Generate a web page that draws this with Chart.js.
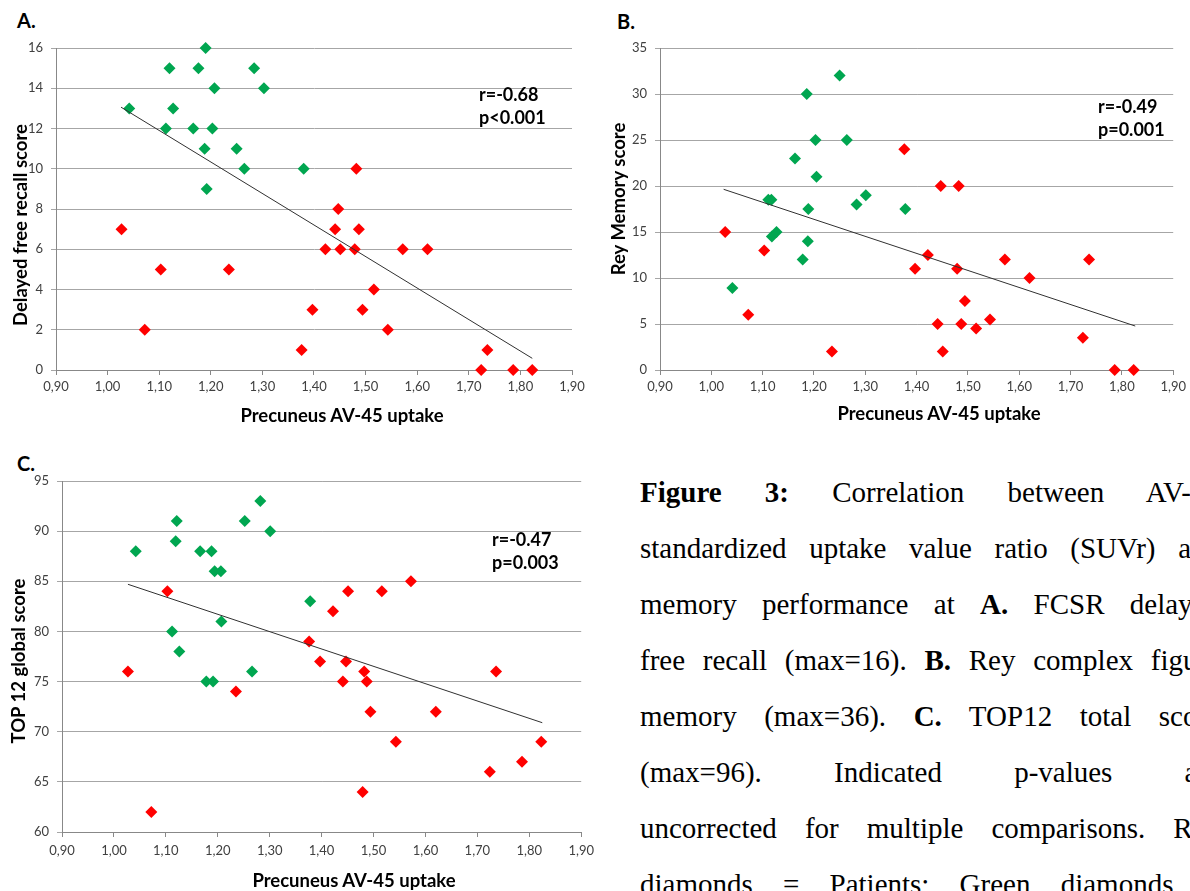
<!DOCTYPE html>
<html>
<head>
<meta charset="utf-8">
<script src="https://cdn.jsdelivr.net/npm/chart.js@4.4.1/dist/chart.umd.min.js"></script>
<style>
html, body { margin: 0; padding: 0; background: #fff; width: 1190px; height: 891px; overflow: hidden; }
.panel { position: absolute; }
.tag { position: absolute; font: bold 20px Lato, sans-serif; color: #000; }
.stat { position: absolute; font: bold 18px Lato, sans-serif; line-height: 23px; color: #000; }
.xt, .yt { position: absolute; width: 400px; height: 22px; font: bold 18.5px/22px Lato, sans-serif; color: #000; text-align: center; white-space: nowrap; }
.yt { transform: rotate(-90deg); }
#caption { position: absolute; left: 640px; top: 464px; width: 580px; font: 29px/56px "Liberation Serif", serif; color: #000; }
#caption div { text-align: justify; text-align-last: justify; white-space: nowrap; }
</style>
</head>
<body>

<div class="tag" style="left:17px;top:8px">A.</div>
<div class="tag" style="left:617px;top:9px">B.</div>
<div class="tag" style="left:17px;top:451px">C.</div>

<canvas id="chartA" class="panel" width="590" height="430" style="left:0;top:0"></canvas>
<canvas id="chartB" class="panel" width="600" height="430" style="left:590px;top:0"></canvas>
<canvas id="chartC" class="panel" width="600" height="441" style="left:0;top:450px"></canvas>

<!-- axis titles: centre = left + 200, top + 11 -->
<div class="xt" style="left:142px;top:404px">Precuneus AV-45 uptake</div>
<div class="xt" style="left:739px;top:402px">Precuneus AV-45 uptake</div>
<div class="xt" style="left:154px;top:869px">Precuneus AV-45 uptake</div>
<div class="yt" style="left:-180px;top:214px">Delayed free recall score</div>
<div class="yt" style="left:418px;top:188px">Rey Memory score</div>
<div class="yt" style="left:-182px;top:650px">TOP 12 global score</div>

<div class="stat" style="left:479px;top:83px">r=-0.68<br>p&lt;0.001</div>
<div class="stat" style="left:1098px;top:95px">r=-0.49<br>p=0.001</div>
<div class="stat" style="left:492px;top:528px">r=-0.47<br>p=0.003</div>

<div id="caption">
  <div><b>Figure 3:</b> Correlation between AV-45</div>
  <div>standardized uptake value ratio (SUVr) and</div>
  <div>memory performance at <b>A.</b> FCSR delayed</div>
  <div>free recall (max=16). <b>B.</b> Rey complex figure</div>
  <div>memory (max=36). <b>C.</b> TOP12 total score</div>
  <div>(max=96). Indicated p-values are</div>
  <div>uncorrected for multiple comparisons. Red</div>
  <div>diamonds = Patients; Green diamonds =</div>
</div>

<script>
// patients (red), same SUVr in all three panels
const patientSuvr = [1.027, 1.072, 1.103, 1.235, 1.376, 1.397, 1.422, 1.441, 1.447, 1.451, 1.479,
                     1.482, 1.487, 1.494, 1.516, 1.543, 1.572, 1.620, 1.724, 1.736, 1.786, 1.823];
const patientRecall = [7, 2, 5, 5, 1, 3, 6, 7, 8, 6, 6, 10, 7, 3, 4, 2, 6, 6, 0, 1, 0, 0];
const patientRey    = [15, 6, 13, 2, 24, 11, 12.5, 5, 20, 2, 11, 20, 5, 7.5, 4.5, 5.5, 12, 10, 3.5, 12, 0, 0];
const patientTop12  = [76, 62, 84, 74, 79, 77, 82, 75, 77, 84, 64, 76, 75, 72, 84, 69, 85, 72, 66, 76, 67, 69];

// controls (green), read per panel
const controlSuvrA   = [1.042, 1.113, 1.120, 1.127, 1.166, 1.176, 1.188, 1.190, 1.192, 1.203, 1.207, 1.250, 1.265, 1.284, 1.303, 1.380];
const controlRecall  = [13, 12, 15, 13, 12, 15, 11, 16, 9, 12, 14, 11, 10, 15, 14, 10];
const controlSuvrB   = [1.041, 1.111, 1.117, 1.118, 1.127, 1.163, 1.178, 1.186, 1.188, 1.189, 1.203, 1.205, 1.250, 1.264, 1.283, 1.301, 1.378];
const controlRey     = [8.9, 18.5, 18.5, 14.5, 15, 23, 12, 30, 14, 17.5, 25, 21, 32, 25, 18, 19, 17.5];
const controlSuvrC   = [1.042, 1.112, 1.119, 1.121, 1.126, 1.166, 1.178, 1.188, 1.191, 1.194, 1.206, 1.207, 1.252, 1.266, 1.282, 1.301, 1.378];
const controlTop12   = [88, 80, 89, 91, 78, 88, 75, 88, 75, 86, 86, 81, 91, 76, 93, 90, 83];

// regression line end points [x, y]
const trendA = [[1.026, 13.06], [1.823, 0.58]];
const trendB = [[1.024, 19.64], [1.826, 4.78]];
const trendC = [[1.027, 84.7], [1.825, 70.9]];

const RED = '#ff0000';
const GREEN = '#00a650';
const FONT = 'Lato';

function pts(xs, ys) {
    return xs.map((x, i) => ({ x: x, y: ys[i] }));
}

function makeChart(id, cfg) {
    const diamonds = (data, color) => ({
        data: data,
        pointStyle: 'rectRot',
        pointRadius: 6,
        pointBorderWidth: 0,
        backgroundColor: color,
        borderColor: color,
        showLine: false,
        clip: false
    });

    return new Chart(document.getElementById(id), {
        type: 'scatter',
        data: {
            datasets: [
                {
                    data: cfg.trend.map(p => ({ x: p[0], y: p[1] })),
                    showLine: true,
                    borderColor: '#303030',
                    borderWidth: 1,
                    pointRadius: 0
                },
                diamonds(pts(cfg.px, cfg.py), RED),
                diamonds(pts(cfg.cx, cfg.cy), GREEN)
            ]
        },
        options: {
            responsive: false,
            animation: false,
            events: [],
            layout: { padding: { top: cfg.top, right: cfg.right, left: 0, bottom: 0 } },
            plugins: { legend: { display: false }, tooltip: { enabled: false } },
            scales: {
                x: {
                    type: 'linear',
                    min: 0.9,
                    max: 1.9,
                    afterFit: s => { s.height = cfg.xh; },
                    ticks: {
                        stepSize: 0.1,
                        autoSkip: false,
                        maxRotation: 0,
                        padding: cfg.xpad,
                        color: '#404040',
                        font: { family: FONT, size: 13 },
                        callback: v => v.toFixed(2).replace('.', ',')
                    },
                    grid: { drawOnChartArea: false, drawTicks: true, tickLength: 5, color: '#888' },
                    border: { display: true, color: '#888' }
                },
                y: {
                    min: cfg.ymin,
                    max: cfg.ymax,
                    afterFit: s => { s.width = cfg.yw; },
                    ticks: {
                        stepSize: cfg.ystep,
                        padding: 8,
                        color: '#404040',
                        font: { family: FONT, size: 13 }
                    },
                    grid: { color: '#a6a6a6', tickLength: 5 },
                    border: { display: true, color: '#888' }
                }
            }
        }
    });
}

makeChart('chartA', {
    px: patientSuvr, py: patientRecall, cx: controlSuvrA, cy: controlRecall, trend: trendA,
    ymin: 0, ymax: 16, ystep: 2,
    top: 48, right: 18, yw: 56, xh: 60, xpad: 4
});

makeChart('chartB', {
    px: patientSuvr, py: patientRey, cx: controlSuvrB, cy: controlRey, trend: trendB,
    ymin: 0, ymax: 35, ystep: 5,
    top: 48, right: 12, yw: 70, xh: 60, xpad: 4
});

makeChart('chartC', {
    px: patientSuvr, py: patientTop12, cx: controlSuvrC, cy: controlTop12, trend: trendC,
    ymin: 60, ymax: 95, ystep: 5,
    top: 31, right: 4, yw: 62, xh: 59, xpad: 6
});
</script>
</body>
</html>
